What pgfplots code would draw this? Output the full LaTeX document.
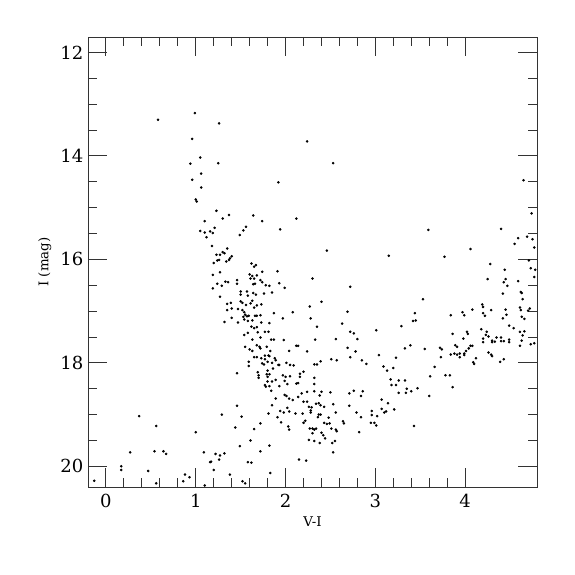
\documentclass[border=0pt]{standalone}
\usepackage{pgfplots}
\pgfplotsset{compat=1.18}
\usepackage{fontspec}
\setmainfont{DejaVu Serif}
\begin{document}
\begin{tikzpicture}
\begin{axis}[
 scale only axis, width=336.75pt, height=337.5pt,
 xmin=-0.2, xmax=4.8, ymin=11.7, ymax=20.4, y dir=reverse,
 xtick={0,1,2,3,4}, ytick={12,14,16,18,20},
 minor x tick num=4, minor y tick num=3,
 tick pos=both, tick align=inside,
 major tick length=14pt, minor tick length=7pt,
 axis line style={line width=0.7pt, black!80},
 every tick/.style={line width=0.7pt, black!80},
 /pgf/number format/assume math mode=true,
 tick label style={font=\fontsize{13.5}{16}\selectfont},
 xticklabel style={yshift=-2pt},
 label style={font=\fontsize{10}{12}\selectfont},
 xlabel={V-I}, ylabel={I (mag)},
 xlabel style={yshift=0pt},
 ylabel style={yshift=0pt},
]
\addplot[only marks, mark=*, mark size=0.75pt, black] table {
x y
0.99 13.17
0.58 13.30
1.26 13.37
0.96 13.67
2.24 13.72
1.05 14.03
0.94 14.15
1.25 14.14
1.06 14.34
0.96 14.46
1.06 14.61
1.92 14.51
1.00 14.84
1.01 14.88
1.23 15.06
1.37 15.14
1.64 15.15
1.30 15.21
1.10 15.26
1.74 15.26
2.12 15.21
1.56 15.37
1.21 15.39
1.53 15.44
1.05 15.45
1.10 15.48
1.16 15.46
1.19 15.49
1.94 15.42
1.49 15.53
1.12 15.57
1.18 15.74
1.35 15.79
1.30 15.86
1.32 15.88
1.23 15.91
1.27 15.91
1.40 15.94
1.38 15.98
2.53 14.14
4.65 14.47
4.74 15.11
3.59 15.43
4.40 15.41
4.59 15.59
4.69 15.56
4.75 15.61
4.55 15.70
2.46 15.83
4.06 15.80
4.77 15.77
3.15 15.93
3.77 15.95
4.71 16.02
4.28 16.09
4.73 16.17
4.78 16.20
4.44 16.20
2.30 16.37
4.25 16.38
4.45 16.38
4.77 16.34
4.43 16.44
4.59 16.42
4.47 16.51
2.72 16.53
4.42 16.66
4.62 16.63
4.63 16.65
3.53 16.77
4.64 16.77
2.40 16.82
2.27 16.91
4.19 16.87
4.20 16.92
4.45 16.97
4.61 16.93
4.62 16.98
4.72 16.95
4.70 16.99
4.08 16.97
4.29 16.98
2.69 17.01
3.97 17.02
3.99 17.08
3.44 17.04
4.46 17.07
3.84 17.08
4.20 17.04
4.22 17.09
4.63 17.11
4.66 17.15
3.42 17.19
3.45 17.18
2.28 17.14
4.42 17.14
2.63 17.24
2.35 17.30
3.29 17.29
3.01 17.37
4.49 17.28
4.54 17.33
4.18 17.35
2.72 17.40
2.76 17.43
3.86 17.44
4.24 17.40
4.02 17.40
4.03 17.44
4.61 17.40
4.66 17.39
4.23 17.46
4.26 17.49
4.35 17.51
4.64 17.47
2.33 17.55
2.56 17.54
2.80 17.54
3.98 17.53
4.20 17.53
4.20 17.60
4.30 17.57
4.33 17.59
4.30 17.60
4.40 17.51
4.40 17.58
4.43 17.58
4.49 17.55
4.49 17.60
4.63 17.57
4.73 17.64
4.77 17.62
4.61 17.67
3.89 17.66
3.91 17.69
4.06 17.67
2.69 17.71
2.24 17.78
2.78 17.78
3.33 17.72
3.39 17.66
3.55 17.73
3.72 17.71
3.74 17.74
3.84 17.84
3.88 17.82
3.91 17.84
3.94 17.82
3.94 17.89
3.99 17.82
3.99 17.85
4.01 17.77
4.04 17.72
4.08 17.67
4.12 17.91
4.09 17.99
4.10 18.02
4.39 17.98
4.43 17.93
4.29 17.84
4.30 17.87
4.26 17.80
2.39 17.97
2.51 17.93
2.57 17.95
2.90 18.02
2.85 17.95
2.20 18.17
2.16 18.21
2.16 18.27
2.32 18.03
3.04 17.85
3.09 18.07
3.13 18.15
3.20 18.10
3.23 17.90
3.17 18.32
3.18 18.43
3.23 18.43
3.26 18.34
3.26 18.58
3.33 18.34
3.35 18.50
3.34 18.58
3.40 18.55
3.47 18.49
3.60 18.64
3.61 18.26
3.66 18.08
3.73 17.89
3.78 18.24
3.83 18.24
3.86 18.47
2.72 17.89
2.35 18.03
2.32 18.29
2.32 18.41
2.32 18.55
2.24 18.56
2.40 18.56
2.50 18.57
2.18 18.59
2.38 18.63
2.71 18.59
2.76 18.54
2.86 18.55
2.84 18.64
2.20 18.75
2.24 18.75
2.34 18.79
2.37 18.78
2.39 18.82
2.43 18.85
2.53 18.80
2.26 18.85
2.29 18.86
2.28 18.92
2.19 18.98
2.28 18.96
2.37 19.00
2.39 19.00
2.56 18.96
2.71 18.83
2.79 18.96
2.84 19.05
2.96 18.93
2.96 19.01
3.02 19.03
3.10 18.96
3.12 18.94
3.14 18.78
3.07 18.71
3.21 18.90
3.07 18.89
2.95 19.16
2.99 19.16
3.01 19.21
2.20 19.16
2.22 19.12
2.36 19.05
2.48 19.06
2.43 19.16
2.46 19.18
2.49 19.17
2.27 19.27
2.30 19.27
2.32 19.29
2.34 19.27
2.30 19.36
2.40 19.35
2.42 19.40
2.44 19.46
2.51 19.27
2.56 19.29
2.57 19.32
2.64 19.13
2.65 19.17
2.26 19.49
2.32 19.51
2.38 19.55
2.52 19.55
2.55 19.51
2.53 19.73
2.23 19.89
2.82 19.34
3.43 19.22
1.24 16.02
1.26 16.01
1.34 16.04
1.37 16.01
1.20 16.07
1.62 16.08
1.67 16.11
1.65 16.14
1.74 16.24
1.91 16.23
1.27 16.25
1.19 16.30
1.60 16.29
1.63 16.32
1.68 16.31
1.61 16.37
1.65 16.37
1.72 16.40
1.74 16.44
1.33 16.43
1.36 16.44
1.24 16.47
1.29 16.51
1.46 16.40
1.46 16.47
1.64 16.48
1.66 16.47
1.78 16.50
1.93 16.46
1.99 16.55
1.82 16.51
1.19 16.56
1.50 16.62
1.57 16.62
1.50 16.68
1.58 16.70
1.64 16.65
1.67 16.68
1.76 16.66
1.85 16.64
1.27 16.72
1.63 16.80
1.50 16.81
1.52 16.84
1.35 16.86
1.39 16.84
1.56 16.88
1.61 16.85
1.68 16.89
1.73 16.87
1.65 16.93
1.35 16.98
1.40 16.95
1.47 16.96
1.52 16.98
1.54 17.02
1.55 17.07
1.57 17.10
1.59 17.09
1.53 17.11
1.54 17.16
1.66 17.09
1.68 17.09
1.58 17.19
1.63 17.18
1.72 17.08
1.87 17.04
2.08 17.02
1.97 17.14
1.40 17.13
1.32 17.21
1.47 17.22
1.73 17.22
1.82 17.23
1.62 17.30
1.65 17.33
1.68 17.31
1.54 17.46
1.58 17.42
1.69 17.41
1.77 17.40
1.81 17.40
1.63 17.55
1.72 17.51
1.84 17.55
1.87 17.55
1.98 17.56
1.68 17.66
1.71 17.69
2.12 17.67
2.14 17.67
1.55 17.69
1.60 17.74
1.63 17.77
1.72 17.72
1.79 17.69
1.83 17.77
2.04 17.77
1.77 17.86
1.81 17.86
1.82 17.87
1.65 17.89
1.68 17.89
1.73 17.91
1.77 17.93
1.88 17.91
1.89 17.95
1.85 18.00
1.74 18.01
1.76 18.03
1.59 17.98
1.80 17.98
1.92 18.04
1.93 18.04
2.01 18.00
2.05 18.04
2.09 18.05
1.59 18.06
1.46 18.20
1.69 18.18
1.80 18.15
1.86 18.11
1.79 18.22
1.82 18.22
1.70 18.24
1.70 18.29
1.80 18.27
1.97 18.24
2.00 18.27
2.05 18.26
1.89 18.33
1.85 18.36
1.80 18.36
1.77 18.43
1.78 18.46
1.82 18.45
1.93 18.45
1.99 18.35
2.02 18.41
2.12 18.40
2.14 18.39
1.84 18.54
1.89 18.69
1.99 18.62
2.01 18.64
2.04 18.69
2.08 18.72
2.14 18.66
1.85 18.82
1.94 18.93
1.98 18.96
2.02 18.87
2.04 18.94
2.11 18.98
1.91 19.05
1.95 19.15
2.03 19.23
2.04 19.29
1.81 18.98
1.72 19.17
1.65 19.28
1.61 19.50
1.46 18.83
1.51 19.04
1.44 19.25
1.29 19.00
1.00 19.34
0.56 19.22
0.37 19.03
1.49 19.61
1.82 19.60
1.72 19.71
0.27 19.73
0.54 19.71
0.64 19.71
0.67 19.76
1.09 19.73
1.22 19.76
1.27 19.79
1.32 19.75
1.16 19.92
1.17 19.91
1.26 19.87
1.58 19.92
1.62 19.93
0.17 20.00
0.17 20.07
0.47 20.09
1.20 20.07
1.83 20.13
2.15 19.87
-0.13 20.28
0.56 20.33
0.88 20.16
0.86 20.29
0.93 20.21
1.10 20.37
1.38 20.16
1.52 20.29
1.55 20.33
};
\end{axis}
\path ([xshift=-66pt,yshift=-66pt]current axis.south west) rectangle ([xshift=28.5pt,yshift=27.75pt]current axis.north east);
\end{tikzpicture}
\end{document}
